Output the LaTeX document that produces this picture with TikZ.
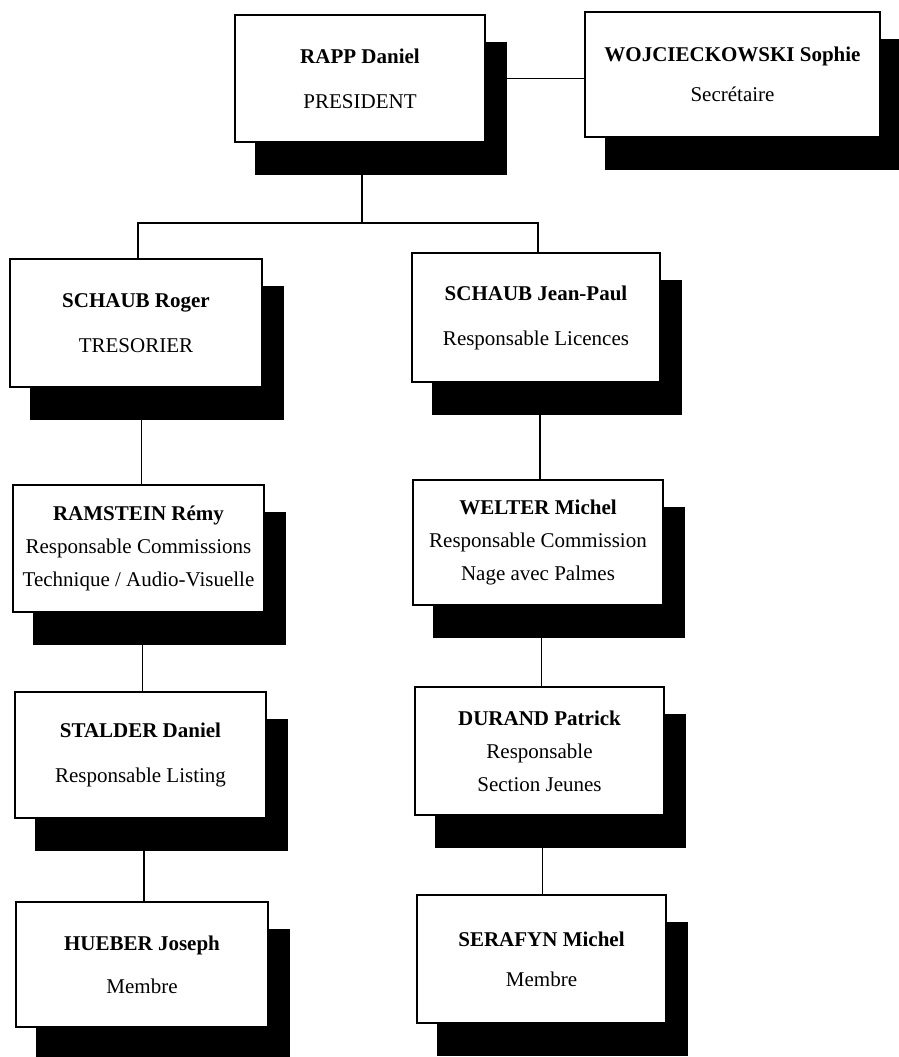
\documentclass[tikz,border=0pt]{standalone}
\usepackage{fontspec}
\setmainfont{Liberation Serif}
\pgfdeclarelayer{lines}
\pgfdeclarelayer{shadows}
\pgfsetlayers{lines,shadows,main}
\begin{document}
\begin{tikzpicture}[x=1pt,y=-1pt,
  box/.style={draw=black, line width=1.8pt, fill=white, align=center, inner sep=0pt},
  twoline/.style={font=\fontsize{21}{45}\selectfont},
  threeline/.style={font=\fontsize{21}{33}\selectfont},
  conn/.style={line width=1.6pt, black},
  shadowfill/.style={fill=black}]
\useasboundingbox (0,0) rectangle (899,1057);

\node[box, twoline, minimum width=250pt, minimum height=127pt] (rapp) at (360,78.5)
  {\textbf{RAPP Daniel}\\PRESIDENT};
\node[box, font=\fontsize{21}{40}\selectfont, minimum width=295pt, minimum height=125pt] (woj) at (732.5,74.5)
  {\textbf{WOJCIECKOWSKI Sophie}\\Secrétaire};
\node[box, twoline, minimum width=252pt, minimum height=128pt] (roger) at (136,323)
  {\textbf{SCHAUB Roger}\\TRESORIER};
\node[box, twoline, minimum width=248pt, minimum height=129pt] (jp) at (536,317.5)
  {\textbf{SCHAUB Jean-Paul}\\Responsable Licences};
\node[box, threeline, minimum width=251pt, minimum height=127pt] (ramstein) at (138.5,548.5)
  {\textbf{RAMSTEIN Rémy}\\Responsable Commissions\\Technique / Audio-Visuelle};
\node[box, threeline, minimum width=250pt, minimum height=125pt] (welter) at (538,542.5)
  {\textbf{WELTER Michel}\\Responsable Commission\\Nage avec Palmes};
\node[box, twoline, minimum width=251pt, minimum height=126pt] (stalder) at (140.5,755)
  {\textbf{STALDER Daniel}\\Responsable Listing};
\node[box, threeline, minimum width=249pt, minimum height=128pt] (durand) at (539.5,751)
  {\textbf{DURAND Patrick}\\Responsable\\Section Jeunes};
\node[box, font=\fontsize{21}{43}\selectfont, minimum width=252pt, minimum height=125pt] (hueber) at (142,964.5)
  {\textbf{HUEBER Joseph}\\Membre};
\node[box, font=\fontsize{21}{40}\selectfont, minimum width=249pt, minimum height=128pt] (serafyn) at (541.5,959)
  {\textbf{SERAFYN Michel}\\Membre};

\begin{pgfonlayer}{shadows}
  \foreach \n in {rapp,woj,roger,jp,ramstein,welter,stalder,durand,hueber,serafyn}
    \fill[shadowfill] ([shift={(21,28)}]\n.north west) rectangle ([shift={(21,32)}]\n.south east);
\end{pgfonlayer}

\begin{pgfonlayer}{lines}
  \coordinate (split) at (362,223);
  \draw[conn] (rapp.east) -- (woj.west |- rapp.east);
  \draw[conn] (rapp.south -| split) -- (split);
  \draw[conn] ([xshift=2pt]roger.north) |- (split) -| ([xshift=2pt]jp.north);
  \draw[conn] (ramstein.north) ++(3,0) coordinate (a1) -- (a1 |- roger.south);
  \draw[conn] (stalder.north) ++(2,0) coordinate (a2) -- (a2 |- ramstein.south);
  \draw[conn] (hueber.north) ++(2,0) coordinate (a3) -- (a3 |- stalder.south);
  \draw[conn] (welter.north) ++(2,0) coordinate (b1) -- (b1 |- jp.south);
  \draw[conn] (durand.north) ++(2,0) coordinate (b2) -- (b2 |- welter.south);
  \draw[conn] (serafyn.north) ++(1,0) coordinate (b3) -- (b3 |- durand.south);
\end{pgfonlayer}
\end{tikzpicture}
\end{document}
